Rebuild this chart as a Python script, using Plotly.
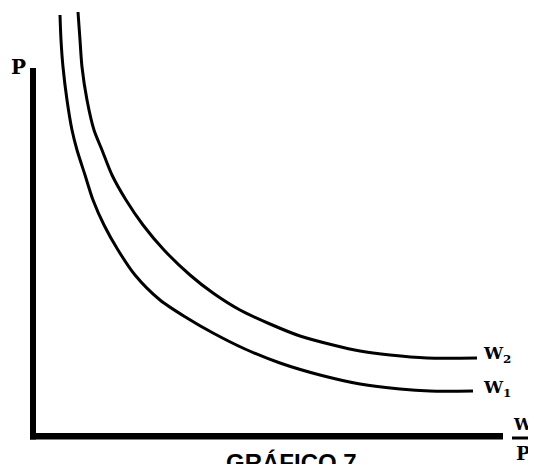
import plotly.graph_objects as go

# Curve W1 (lower curve): x = W/P, y = P (arbitrary units, origin at axes corner)
w1_x = [27, 28, 30, 34, 39, 44, 52, 60, 71, 85, 102, 127, 154, 180, 212, 247, 287, 327, 367, 397, 440]
w1_y = [421, 396, 369, 336, 306, 286, 261, 236, 211, 186, 161, 136, 118, 103, 87, 73, 61, 52, 47, 45, 45]

# Curve W2 (upper curve)
w2_x = [45, 47, 49, 54, 61, 69, 79, 93, 110, 131, 157, 180, 207, 237, 267, 300, 327, 357, 394, 444]
w2_y = [424, 396, 369, 336, 306, 286, 261, 236, 211, 186, 161, 143, 126, 112, 100, 91, 85, 81, 78, 78]

curve_labels = ["W<sub>1</sub>", "W<sub>2</sub>"]
y_label = "P"
x_label_num = "W"
x_label_den = "P"
title_text = "GRÁFICO 7"

X_MAX = 470
Y_MAX = 368

fig = go.Figure()
for xs, ys in [(w1_x, w1_y), (w2_x, w2_y)]:
    fig.add_trace(go.Scatter(x=xs, y=ys, mode="lines",
                             line=dict(color="black", width=3, shape="spline", smoothing=0.8),
                             hoverinfo="skip", showlegend=False))

# thick axes
fig.add_shape(type="rect", xref="x", yref="y", x0=-3, x1=3, y0=-3.5, y1=Y_MAX,
              fillcolor="black", line=dict(width=0))
fig.add_shape(type="rect", xref="x", yref="y", x0=-3, x1=X_MAX, y0=-3.5, y1=3,
              fillcolor="black", line=dict(width=0))
# fraction bar
fig.add_shape(type="line", xref="x", yref="y", x0=479, x1=501, y0=-2, y1=-2,
              line=dict(color="black", width=3))

serif = "DejaVu Serif"
fig.add_annotation(x=-15, y=369, xref="x", yref="y", text="<b>" + y_label + "</b>", showarrow=False,
                   font=dict(family=serif, size=20, color="black"))
fig.add_annotation(x=448, y=48, xref="x", yref="y", text="<b>" + curve_labels[0] + "</b>", showarrow=False,
                   xanchor="left", font=dict(family=serif, size=17, color="black"))
fig.add_annotation(x=448, y=82, xref="x", yref="y", text="<b>" + curve_labels[1] + "</b>", showarrow=False,
                   xanchor="left", font=dict(family=serif, size=17, color="black"))
fig.add_annotation(x=490, y=12, xref="x", yref="y", text="<b>" + x_label_num + "</b>", showarrow=False,
                   font=dict(family=serif, size=16, color="black"))
fig.add_annotation(x=490, y=-17, xref="x", yref="y", text="<b>" + x_label_den + "</b>", showarrow=False,
                   font=dict(family=serif, size=19, color="black"))
fig.add_annotation(x=258, y=-11, xref="x", yref="y", text="<b>" + title_text + "</b>", showarrow=False,
                   yanchor="top", font=dict(family="Liberation Sans", size=24, color="black"))

# page body has an 8px margin, so the figure is 8px smaller than the window
fig.update_layout(
    width=528, height=456,
    margin=dict(l=0, r=0, t=0, b=0),
    paper_bgcolor="white", plot_bgcolor="white",
    xaxis=dict(range=[-25, 503], visible=False, fixedrange=True),
    yaxis=dict(range=[-28, 428], visible=False, fixedrange=True),
)

fig.write_html("out.html")
